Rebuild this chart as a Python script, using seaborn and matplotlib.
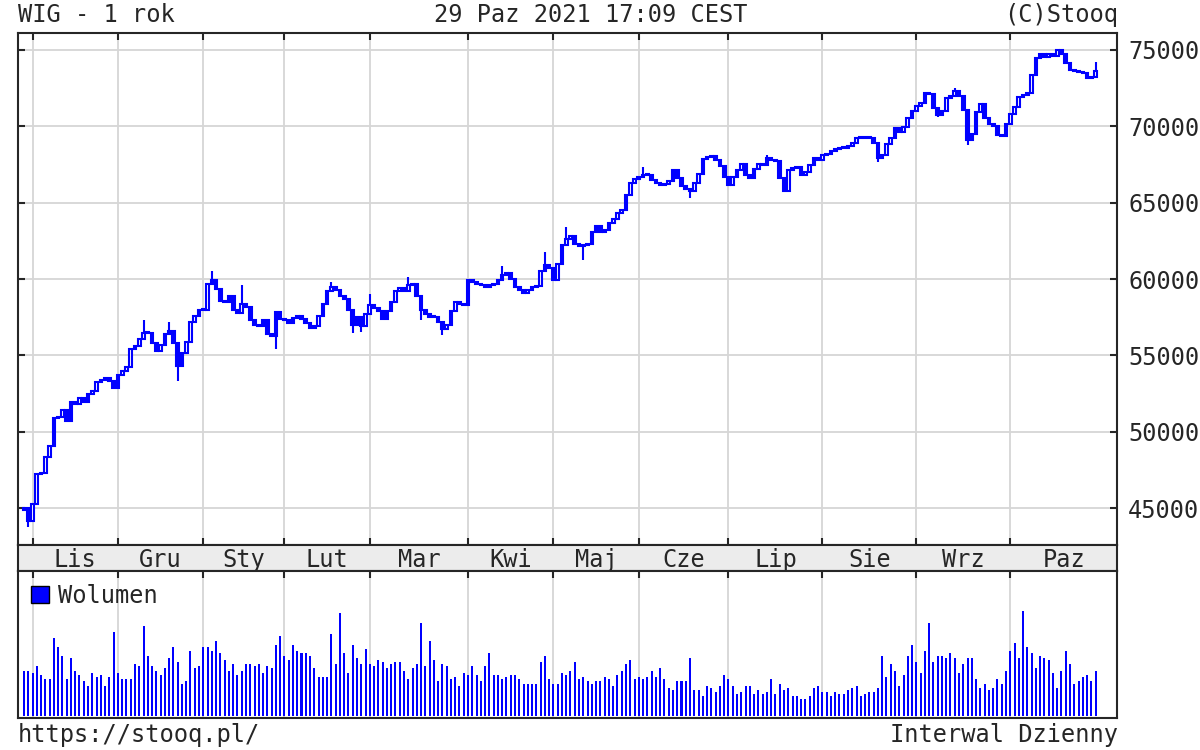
import numpy as np
import pandas as pd
import matplotlib
matplotlib.use("Agg")
import matplotlib.pyplot as plt
from matplotlib.patches import Patch
import seaborn as sns


# ---- data (WIG, daily, Oct 2020 - Oct 2021) ----
months = ["Lis", "Gru", "Sty", "Lut", "Mar", "Kwi", "Maj", "Cze", "Lip", "Sie", "Wrz", "Paz"]
# trading sessions per month, first entry = last 2 sessions of Oct 2020
sessions = [2, 20, 20, 19, 20, 23, 20, 20, 21, 22, 22, 22, 21]

first_open = 44900
close = [
    45000, 44150,
    # Lis
    45300, 47250, 47300, 48380, 49050, 50900, 51000, 51450, 50700, 51950,
    51800, 52250, 51950, 52450, 52700, 53250, 53400, 53500, 53350, 52900,
    # Gru
    53700, 54000, 54250, 55400, 55650, 56050, 56500, 56450, 55800, 55300,
    55700, 56400, 56600, 55800, 54300, 55150, 55900, 57200, 57600, 57950,
    # Sty
    58000, 59700, 59950, 59350, 58550, 58500, 58900, 58000, 57800, 58400,
    58200, 57300, 57000, 56900, 57300, 56400, 56250, 57850, 57400,
    # Lut
    57300, 57100, 57450, 57600, 57400, 57100, 56800, 56900, 57550, 58400,
    59200, 59500, 59300, 58900, 58700, 58000, 57000, 57500, 56900, 57700,
    # Mar
    58300, 58100, 57900, 57400, 57900, 58500, 59200, 59400, 59200, 59600,
    59700, 58900, 58000, 57700, 57500, 57500, 57200, 56700, 57000, 57900,
    58500, 58400, 58300,
    # Kwi
    59950, 59800, 59700, 59600, 59500, 59600, 59700, 59950, 60250, 60400,
    60000, 59500, 59300, 59100, 59300, 59450, 59550, 60550, 60950, 60700,
    # Maj
    59950, 61000, 62200, 62600, 62800, 62300, 62150, 62200, 62300, 63100,
    63500, 63100, 63200, 63650, 63950, 64300, 64500, 65500, 66250, 66550,
    # Cze
    66700, 66800, 66800, 66450, 66300, 66150, 66200, 66400, 67100, 66600,
    66100, 65900, 65750, 66250, 66900, 67850, 67950, 68050, 67800, 67400,
    66700,
    # Lip
    66150, 66700, 67100, 67550, 66800, 66600, 67200, 67550, 67450, 67900,
    67800, 67700, 66600, 65750, 67100, 67250, 67300, 66800, 67000, 67450,
    67900, 67800,
    # Sie
    68100, 68200, 68400, 68500, 68550, 68600, 68700, 68900, 69200, 69250,
    69300, 69200, 68900, 67900, 68100, 68850, 69200, 69850, 69600, 69950,
    70500, 71000,
    # Wrz
    71300, 71500, 72150, 72100, 71200, 70750, 71000, 71850, 72000, 72300,
    72000, 71050, 69100, 69500, 70900, 71450, 70500, 70150, 70000, 69400,
    69350, 70150,
    # Paz
    70800, 71250, 71900, 72050, 72150, 73350, 74450, 74750, 74500, 74700,
    74600, 74950, 74700, 74100, 73700, 73600, 73550, 73500, 73150, 73200,
    73600,
]

# longer shadows visible on the chart (session index -> price)
high_wicks = {28: 57300, 34: 57200, 44: 60550, 51: 59600, 72: 59800, 81: 59050,
              90: 60150, 112: 60850, 122: 61800, 127: 63380, 145: 67300,
              174: 68100, 218: 72500, 251: 74200}
low_wicks = {1: 43800, 36: 53300, 59: 55450, 77: 56450, 79: 56550, 93: 57300,
             98: 56340, 131: 61250, 156: 65300, 200: 67650, 214: 70600, 221: 68750}

# volume, arbitrary units (no scale shown on the chart)
volume = [
    135, 135, 129, 148, 122, 109, 109, 232, 206, 180,
    109, 174, 135, 122, 103, 90, 129, 116, 122, 90,
    116, 251, 129, 109, 109, 109, 154, 148, 270, 180,
    148, 135, 122, 142, 174, 206, 161, 96, 103, 193,
    142, 148, 206, 206, 193, 225, 187, 167, 135, 154, 122,
    135, 154, 154, 148, 154, 129, 148, 142, 212, 238,
    180, 167, 212, 193, 187, 187, 180, 142, 116, 116,
    116, 245, 154, 309, 187, 129, 212, 174, 154, 200,
    154, 148, 167, 161, 142, 154, 161,
    161, 135, 109, 142, 154, 277, 148, 225, 167, 103,
    154, 148, 109, 116, 90, 129, 122, 148, 122, 103,
    148, 187, 122, 122, 109, 116, 122, 122, 109, 96,
    96, 96, 96, 161, 180, 109, 96, 96, 128, 122, 135,
    161, 109, 116, 103, 96, 103, 103, 116, 109, 90,
    122, 135, 154, 167, 109, 116, 109, 116, 135, 116,
    142, 109, 83, 77, 103, 103, 103, 174, 77, 77,
    58, 90, 83, 71, 90, 122, 109, 90, 64, 71,
    90, 90, 64, 77, 64, 71, 109, 64, 96, 77,
    83, 58, 58,
    51, 51, 58, 83, 90, 71, 71, 58, 71, 64,
    64, 77, 83, 90, 58, 64, 71, 71, 83, 180,
    116, 154, 135, 90, 122, 180, 212, 161, 128, 193,
    277, 161, 180, 180, 174, 187, 174, 128, 154, 174,
    174, 109, 83, 96, 77, 83, 109, 96, 135, 193,
    219, 174, 315, 206, 187, 142, 180, 174, 167, 128,
    83, 135, 193, 154, 96, 103, 116, 122, 103, 135,
]

price_ticks = [45000, 50000, 55000, 60000, 65000, 70000, 75000]

BLUE = "#0000ff"
GRID = "#d6d6d6"
W, H = 1200, 750

sns.set_theme(style="white")
plt.rcParams["font.family"] = ["DejaVu Sans Mono"]
plt.rcParams["axes.linewidth"] = 1.5
FS = 17

close = np.array(close, dtype=float)
n = len(close)
idx = np.arange(n)
opens = np.r_[first_open, close[:-1]]
up = close >= opens
body_lo = np.minimum(opens, close)
body_hi = np.maximum(opens, close)
body_h = np.maximum(body_hi - body_lo, 70)
highs = body_hi.copy()
lows = body_lo.copy()
for k, v in high_wicks.items():
    highs[k] = v
for k, v in low_wicks.items():
    lows[k] = v

month_start = np.cumsum(sessions)[:-1]
xmin, xmax = -1.4, 256.0
bounds = list(month_start) + [xmax]
label_pos = [(bounds[j] + bounds[j + 1]) / 2 for j in range(len(months))]


def box(x0, y0, x1, y1):
    return [x0 / W, 1 - y1 / H, (x1 - x0) / W, (y1 - y0) / H]


fig = plt.figure(figsize=(12, 7.5), dpi=100)
ax = fig.add_axes(box(18, 33, 1117, 545))
band = fig.add_axes(box(18, 545, 1117, 571))
axv = fig.add_axes(box(18, 571, 1117, 718))

# price panel
ax.set_axisbelow(True)
ax.vlines(idx, lows, highs, color=BLUE, lw=1.5, zorder=3)
ax.bar(idx[up], body_h[up], bottom=body_lo[up], width=0.62, facecolor="white",
       edgecolor=BLUE, linewidth=1.5, zorder=4)
ax.bar(idx[~up], body_h[~up], bottom=body_lo[~up], width=0.62, facecolor=BLUE,
       edgecolor=BLUE, linewidth=1.5, zorder=4)
ax.set_xlim(xmin, xmax)
ax.set_ylim(42606, 76091)
ax.set_xticks(month_start)
ax.set_yticks(price_ticks)
ax.set_yticklabels([str(t) for t in price_ticks])
ax.grid(True, color=GRID, lw=1.3)
ax.tick_params(axis="x", direction="in", top=True, bottom=True, length=5, width=1.5,
               labelbottom=False)
ax.tick_params(axis="y", direction="in", left=True, right=True, length=5, width=1.5,
               labelleft=False, labelright=True, labelsize=FS, pad=8)

# month band
band.set_facecolor("#ececec")
band.set_xlim(xmin, xmax)
band.set_ylim(0, 1)
band.set_xticks([])
band.set_yticks([])
for m, xp in zip(months, label_pos):
    band.text(xp, 0.42, m, ha="center", va="center", fontsize=FS)

# volume panel
vol_df = pd.DataFrame({"session": idx, "volume": volume})
sns.barplot(data=vol_df, x="session", y="volume", native_scale=True, color=BLUE,
            saturation=1, width=0.47, linewidth=0, ax=axv)
axv.set_xlim(xmin, xmax)
axv.set_ylim(-7, 434)
axv.set_xlabel("")
axv.set_ylabel("")
axv.set_xticks(month_start)
axv.set_yticks([])
axv.grid(True, axis="x", color=GRID, lw=1.3)
axv.set_axisbelow(True)
axv.tick_params(axis="x", direction="in", top=True, bottom=False, length=5, width=1.5,
                labelbottom=False)
axv.legend(handles=[Patch(facecolor=BLUE, edgecolor="black", label="Wolumen")],
           loc="upper left", frameon=False, fontsize=FS, handlelength=0.75,
           handleheight=0.75, handletextpad=0.4, borderaxespad=0.35, borderpad=0.2)

# header / footer
fig.text(18 / W, 1 - 15 / H, "WIG - 1 rok", ha="left", va="center", fontsize=FS)
fig.text(591 / W, 1 - 15 / H, "29 Paz 2021 17:09 CEST", ha="center", va="center", fontsize=FS)
fig.text(1118 / W, 1 - 15 / H, "(C)Stooq", ha="right", va="center", fontsize=FS)
fig.text(18 / W, 1 - 735 / H, "https://stooq.pl/", ha="left", va="center", fontsize=FS)
fig.text(1118 / W, 1 - 735 / H, "Interwal Dzienny", ha="right", va="center", fontsize=FS)

fig.savefig("out.png", dpi=100, facecolor="white")
